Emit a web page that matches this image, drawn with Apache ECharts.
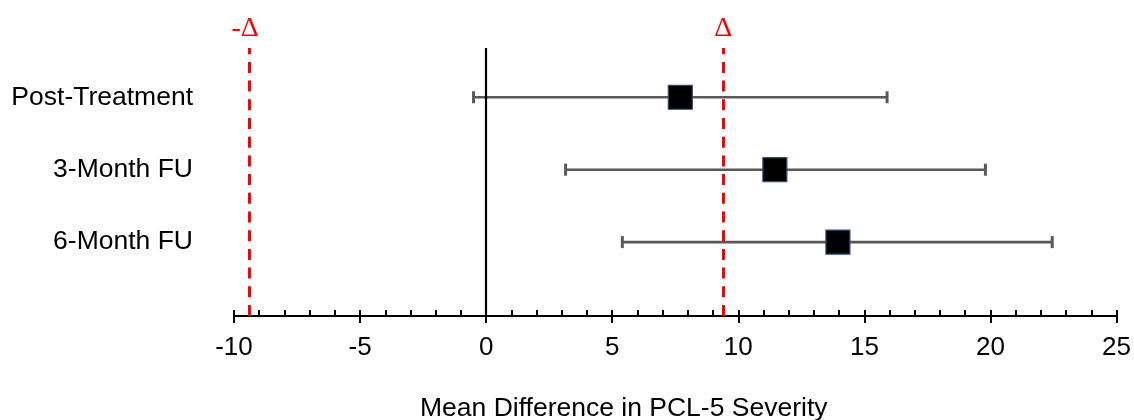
<!DOCTYPE html>
<html>
<head>
<meta charset="utf-8">
<script src="https://cdn.jsdelivr.net/npm/echarts@6/dist/echarts.min.js"></script>
<style>
html,body{margin:0;padding:0;background:#fff;}
#chart{width:1134px;height:420px;}
</style>
</head>
<body>
<div id="chart"></div>
<script>
// ---- data ----
const categories = ['Post-Treatment', '3-Month FU', '6-Month FU'];
const means = [7.7, 11.45, 13.95];
const lower = [-0.5, 3.15, 5.4];
const upper = [15.9, 19.8, 22.45];
const delta = 9.4;
const deltaLabels = ['-\u0394', '\u0394'];
const xMin = -10, xMax = 25, xStep = 5;
const axisTitle = 'Mean Difference in PCL-5 Severity';

// row positions (top row highest)
const rowPos = categories.map((c, i) => categories.length - i);

const chart = echarts.init(document.getElementById('chart'), null, {renderer: 'canvas'});

const barData = categories.map((c, i) => [lower[i], upper[i], rowPos[i]]);
const pointData = categories.map((c, i) => [means[i], rowPos[i]]);

const font = 'Liberation Sans, Arial, sans-serif';
const serif = 'Liberation Serif, Times New Roman, serif';

const option = {
  animation: false,
  grid: {left: 234, right: 17, top: 48, bottom: 104, containLabel: false},
  xAxis: [
    {
      type: 'value', min: xMin, max: xMax, interval: xStep, position: 'bottom',
      axisLine: {show: true, onZero: false, lineStyle: {color: '#000', width: 2}},
      axisTick: {show: true, inside: false, length: 7, lineStyle: {color: '#000', width: 2}},
      axisLabel: {show: true, color: '#000', fontSize: 26, fontFamily: font, margin: 19},
      splitLine: {show: false}
    },
    {
      type: 'value', min: xMin, max: xMax, interval: 1, position: 'bottom', offset: 0,
      axisLine: {show: false, onZero: false},
      axisTick: {show: true, inside: true, length: 6, lineStyle: {color: '#000', width: 2}},
      axisLabel: {show: false},
      splitLine: {show: false}
    }
  ],
  yAxis: {
    type: 'value', min: -0.02, max: 3.68,
    axisLine: {show: false}, axisTick: {show: false}, splitLine: {show: false},
    axisLabel: {
      show: true, customValues: rowPos, color: '#000', fontSize: 26.5, fontFamily: font, margin: 41,
      formatter: v => { const i = rowPos.indexOf(Math.round(v)); return i >= 0 ? categories[i] : ''; }
    }
  },
  graphic: [{
    type: 'text', left: 626 - 206, top: 395,
    style: {text: axisTitle, fill: '#000', fontSize: 26.5, fontFamily: font}
  }],
  series: [
    {
      type: 'custom', name: 'ci', xAxisIndex: 0, yAxisIndex: 0,
      data: barData, z: 2,
      renderItem: function (params, api) {
        const a = api.coord([api.value(0), api.value(2)]);
        const b = api.coord([api.value(1), api.value(2)]);
        const h = 6;
        const st = {stroke: '#595959', lineWidth: 2.6};
        return {type: 'group', children: [
          {type: 'line', shape: {x1: a[0], y1: a[1], x2: b[0], y2: b[1]}, style: st},
          {type: 'line', shape: {x1: a[0], y1: a[1] - h, x2: a[0], y2: a[1] + h}, style: {stroke: '#595959', lineWidth: 3}},
          {type: 'line', shape: {x1: b[0], y1: b[1] - h, x2: b[0], y2: b[1] + h}, style: {stroke: '#595959', lineWidth: 3}}
        ]};
      }
    },
    {
      type: 'scatter', name: 'mean', xAxisIndex: 0, yAxisIndex: 0,
      data: pointData, symbol: 'rect', symbolSize: 24, z: 5,
      itemStyle: {color: '#000', borderColor: '#2f4b7c', borderWidth: 1.2, opacity: 1},
      markLine: {
        silent: true, symbol: 'none', animation: false,
        data: [
          {xAxis: 0, lineStyle: {color: '#000', width: 2.2, type: 'solid'}, label: {show: false}},
          {xAxis: -delta, lineStyle: {color: '#ff0000', width: 3, type: [11, 7.7]},
           label: {show: true, position: 'end', formatter: deltaLabels[0], color: '#ff0000', fontSize: 28, fontFamily: serif, distance: 5, padding: [0, 8, 0, 0]}},
          {xAxis: delta, lineStyle: {color: '#ff0000', width: 3, type: [11, 7.7]},
           label: {show: true, position: 'end', formatter: deltaLabels[1], color: '#ff0000', fontSize: 28, fontFamily: serif, distance: 5}}
        ]
      }
    }
  ]
};
chart.setOption(option);
</script>
</body>
</html>
